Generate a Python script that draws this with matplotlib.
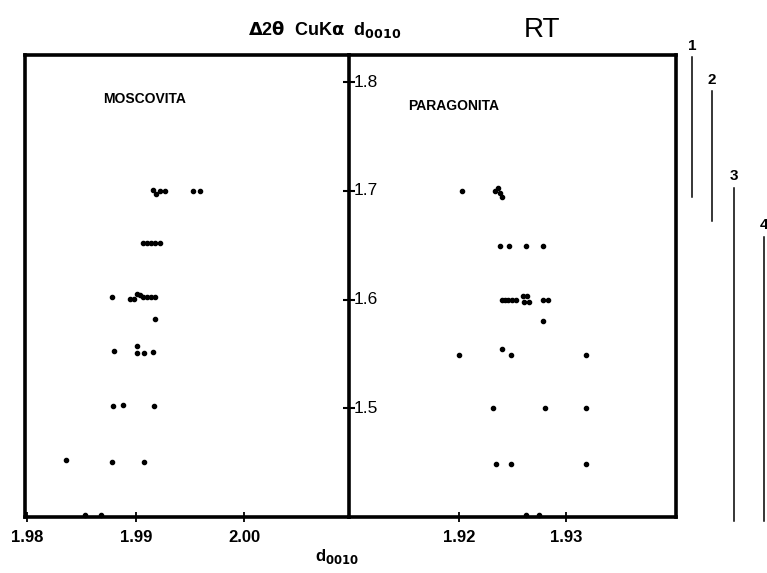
import matplotlib.pyplot as plt
import matplotlib.transforms as mtransforms

plt.rcParams['font.family'] = ['Liberation Sans', 'DejaVu Sans']
NARROW = ['Liberation Sans Narrow', 'Liberation Sans', 'DejaVu Sans']

# moscovita (left panel), d0010 vs delta 2theta
mosc_d = [1.99154, 1.99182, 1.99221, 1.99267, 1.99528, 1.99590,
          1.99065, 1.99101, 1.99138, 1.99175, 1.99217,
          1.98782, 1.98945, 1.98982, 1.99009, 1.99037, 1.99069, 1.99101, 1.99138, 1.99171,
          1.99172,
          1.98800, 1.99006, 1.99006, 1.99074, 1.99159,
          1.98791, 1.98883, 1.99163,
          1.98352, 1.98776, 1.99071,
          1.98533, 1.98675]
mosc_t = [1.701, 1.697, 1.700, 1.700, 1.700, 1.700,
          1.652, 1.652, 1.652, 1.652, 1.652,
          1.602, 1.601, 1.601, 1.605, 1.604, 1.602, 1.602, 1.602, 1.602,
          1.582,
          1.553, 1.557, 1.551, 1.551, 1.552,
          1.502, 1.503, 1.502,
          1.452, 1.451, 1.451,
          1.402, 1.402]

# paragonita (right panel)
para_d = [1.92031, 1.92335, 1.92363, 1.92381, 1.92400,
          1.92381, 1.92468, 1.92620, 1.92784,
          1.92397, 1.92428, 1.92460, 1.92493, 1.92526, 1.92593, 1.92609, 1.92633, 1.92654,
          1.92784, 1.92828,
          1.92784,
          1.92397, 1.92003, 1.92487, 1.93179,
          1.92316, 1.92803, 1.93184,
          1.92344, 1.92481, 1.93184,
          1.92620, 1.92744]
para_t = [1.700, 1.700, 1.703, 1.698, 1.694,
          1.649, 1.649, 1.649, 1.649,
          1.600, 1.600, 1.600, 1.600, 1.600, 1.603, 1.598, 1.603, 1.598,
          1.600, 1.600,
          1.580,
          1.555, 1.549, 1.549, 1.549,
          1.500, 1.500, 1.500,
          1.449, 1.449, 1.449,
          1.402, 1.402]

yticks = [1.5, 1.6, 1.7, 1.8]
left_xticks = [1.98, 1.99, 2.00]
right_xticks = [1.92, 1.93]

# ranges drawn at the right edge
range_labels = ['1', '2', '3', '4']
range_top = [1.823, 1.792, 1.703, 1.658]
range_bottom = [1.694, 1.672, 1.396, 1.396]
range_xpos = [1.049, 1.110, 1.177, 1.269]

fig = plt.figure(figsize=(7.67, 5.73), dpi=100)
ax1 = fig.add_axes([0.0326, 0.0977, 0.4224, 0.8063])
ax2 = fig.add_axes([0.4550, 0.0977, 0.4264, 0.8063])

for ax in (ax1, ax2):
    ax.set_ylim(1.40, 1.825)
    for s in ax.spines.values():
        s.set_linewidth(2.6)
    ax.tick_params(axis='x', direction='inout', length=7, width=1.3, pad=6)
ax1.spines['right'].set_visible(False)

ax1.set_xlim(1.97977, 2.00963)
ax2.set_xlim(1.90977, 1.94019)

ax1.scatter(mosc_d, mosc_t, s=9, color='black', clip_on=False, zorder=3)
ax2.scatter(para_d, para_t, s=9, color='black', clip_on=False, zorder=3)

ax1.set_yticks([])
ax1.set_xticks(left_xticks)
ax1.set_xticklabels(['%.2f' % v for v in left_xticks], family=NARROW,
                    fontweight='bold', fontsize=12)
ax2.set_xticks(right_xticks)
ax2.set_xticklabels(['%.2f' % v for v in right_xticks], family=NARROW,
                    fontweight='bold', fontsize=12)

ax2.set_yticks(yticks)
ax2.tick_params(axis='y', direction='inout', length=9, width=1.5, labelleft=False)
ytrans = ax2.get_yaxis_transform()
for v in yticks:
    ax2.text(0.014, v, '%.1f' % v, transform=ytrans, ha='left', va='center',
             fontsize=12.5)

ax1.text(0.37, 0.905, 'MOSCOVITA', transform=ax1.transAxes, family=NARROW,
         fontweight='bold', fontsize=10, ha='center', va='center')
ax2.text(0.32, 0.89, 'PARAGONITA', transform=ax2.transAxes, family=NARROW,
         fontweight='bold', fontsize=10, ha='center', va='center')

rtrans = mtransforms.blended_transform_factory(ax2.transAxes, ax2.transData)
for lab, top, bot, xp in zip(range_labels, range_top, range_bottom, range_xpos):
    ax2.plot([xp, xp], [top, bot], color='black', lw=1.1, transform=rtrans,
             clip_on=False)
    ax2.text(xp, top + 0.004, lab, transform=rtrans, ha='center', va='bottom',
             fontsize=11, fontweight='bold')

fig.text(0.323, 0.948, r'$\mathbf{\Delta}$2$\mathbf{\theta}$  CuK$\mathbf{\alpha}$  d$_{\mathbf{0010}}$',
         family=NARROW, fontweight='bold', fontsize=13, ha='left', va='center')
fig.text(0.706, 0.948, 'RT', fontsize=20, ha='center', va='center')
fig.text(0.44, 0.028, r'd$_{\mathbf{0010}}$', family=NARROW, fontweight='bold',
         fontsize=12, ha='center', va='center')

fig.savefig('out.png', dpi=100)
